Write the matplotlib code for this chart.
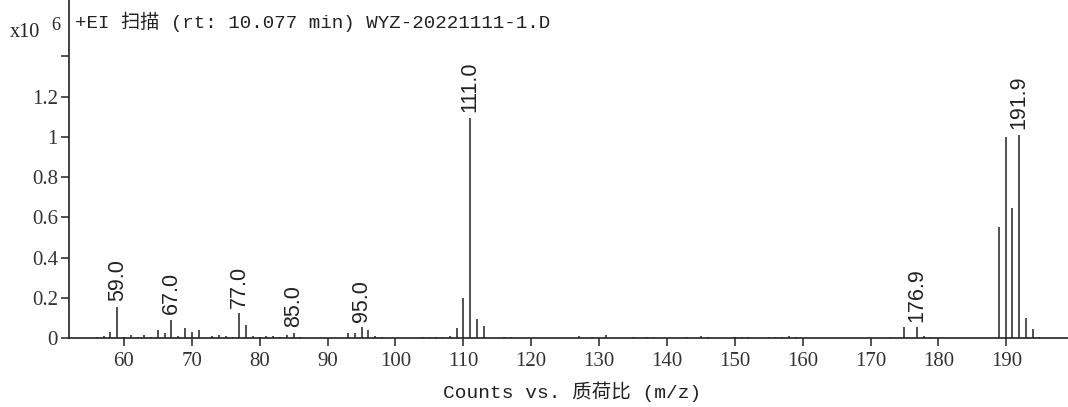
import matplotlib
matplotlib.use("Agg")
import matplotlib.pyplot as plt

# --- peak list (counts in units of 1e6)
mz = [56, 57, 58, 59, 60, 61, 62, 63, 64, 65, 66, 67, 68, 69, 70, 71,
      73, 74, 75, 76, 77, 78, 79, 80, 81, 82, 83, 84, 85, 86,
      93, 94, 95, 96, 97, 98,
      104, 105, 106, 107, 108, 109, 110, 111, 112, 113, 116, 117,
      127, 129, 131, 135, 137, 138, 143, 145, 146, 150, 151, 152,
      155, 156, 157, 158, 159,
      173, 174.9, 176.9, 177.9, 178.9,
      188.9, 189.9, 190.9, 191.9, 192.9, 193.9, 194.9]
counts = [0.004, 0.01, 0.03, 0.155, 0.006, 0.014, 0.006, 0.015, 0.005, 0.04,
          0.023, 0.09, 0.01, 0.052, 0.03, 0.038,
          0.01, 0.013, 0.01, 0.007, 0.123, 0.065, 0.01, 0.005, 0.01, 0.01,
          0.007, 0.015, 0.027, 0.005,
          0.027, 0.027, 0.053, 0.04, 0.012, 0.005,
          0.004, 0.004, 0.004, 0.005, 0.01, 0.05, 0.20, 1.095, 0.094, 0.06,
          0.005, 0.005,
          0.008, 0.006, 0.015, 0.006, 0.006, 0.006, 0.006, 0.012, 0.006,
          0.006, 0.006, 0.006,
          0.006, 0.006, 0.006, 0.008, 0.005,
          0.006, 0.053, 0.053, 0.008, 0.006,
          0.553, 1.0, 0.647, 1.01, 0.10, 0.045, 0.006]

labelled_mz = [59, 67, 77, 85, 95, 111, 176.9, 191.9]

x_ticks = list(range(60, 200, 10))
y_ticks = [0, 0.2, 0.4, 0.6, 0.8, 1, 1.2, 1.4]
y_tick_labels = ["0", "0.2", "0.4", "0.6", "0.8", "1", "1.2", ""]

title = "+EI 扫描 (rt: 10.077 min) WYZ-20221111-1.D"
xlabel = "Counts vs. 质荷比 (m/z)"

W, H = 1068, 407
fig = plt.figure(figsize=(W / 100, H / 100), dpi=100)
ax = fig.add_axes([69 / W, 69 / H, 999 / W, 338 / H])

ax.vlines(mz, 0, counts, color="#222222", linewidth=1.1)

# peak labels, rotated above the bars
for m in labelled_mz:
    h = counts[mz.index(m)]
    ax.annotate(f"{m:.1f}", xy=(m, h), xytext=(0, 4),
                textcoords="offset points", rotation=90,
                ha="center", va="bottom", fontsize=15.5,
                family="Liberation Sans", color="#222222")

ax.set_xlim(51.9, 199.1)
ax.set_ylim(0, 1.68)

ax.spines["top"].set_visible(False)
ax.spines["right"].set_visible(False)
for s in ("left", "bottom"):
    ax.spines[s].set_linewidth(1.2)
    ax.spines[s].set_color("#222222")

ax.set_xticks(x_ticks)
ax.set_yticks(y_ticks)
ax.set_yticklabels(y_tick_labels)
ax.tick_params(axis="both", direction="out", length=6, width=1.1,
               color="#222222", labelsize=15, labelcolor="#333333")
for lab in ax.get_xticklabels() + ax.get_yticklabels():
    lab.set_family("Liberation Serif")
ax.tick_params(axis="x", pad=4)
ax.tick_params(axis="y", pad=2)

ax.text(6 / 999, 1 - 22 / 338, title, transform=ax.transAxes,
        ha="left", va="center", fontsize=13.8,
        family=["Liberation Mono", "Noto Sans CJK SC"], color="#222222")

fig.text(572 / W, 1 - 392 / H, xlabel, ha="center", va="center",
         fontsize=14, family=["Liberation Mono", "Noto Sans CJK SC"],
         color="#222222")

# exponent marker at top left
fig.text(10 / W, 1 - 37 / H, "x10", ha="left", va="baseline", fontsize=14.5,
         family="Liberation Serif", color="#222222")
fig.text(51 / W, 1 - 30 / H, "6", ha="left", va="baseline", fontsize=13,
         family="Liberation Serif", color="#222222")

fig.savefig("out.png", dpi=100)
